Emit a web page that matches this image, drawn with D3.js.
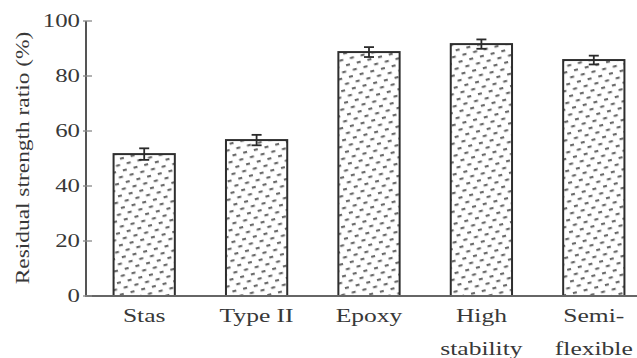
<!DOCTYPE html>
<html>
<head>
<meta charset="utf-8">
<script src="https://cdn.jsdelivr.net/npm/d3@7"></script>
<style>
  html, body { margin: 0; padding: 0; background: #fff; }
  svg { display: block; }
</style>
</head>
<body>
<svg id="chart" width="637" height="358"></svg>
<script>
// Residual strength ratio by sealant type
const categories = ["Stas", "Type II", "Epoxy", "High stability", "Semi-flexible"];
const labelLines = [["Stas"], ["Type II"], ["Epoxy"], ["High", "stability"], ["Semi-", "flexible"]];
const values = [51.6, 56.7, 88.7, 91.6, 85.8];
const errors = [2.1, 1.9, 1.8, 1.7, 1.6];
const yTicks = [0, 20, 40, 60, 80, 100];

const svg = d3.select("#chart");
const W = 637, H = 358;
const mLeft = 86, mRight = 650, mTop = 21, mBottom = 296;
const font = "'Liberation Serif', 'Times New Roman', serif";
const ink = "#383838";

const x = d3.scaleBand().domain(categories).range([mLeft + 2, mRight]).paddingInner(0.455).paddingOuter(0.2275);
const y = d3.scaleLinear().domain([0, 100]).range([mBottom, mTop]);

// dashed-dot fill pattern
const defs = svg.append("defs");
const pat = defs.append("pattern")
  .attr("id", "dots")
  .attr("patternUnits", "userSpaceOnUse")
  .attr("width", 11).attr("height", 12)
  .attr("patternTransform", "rotate(-14)");
pat.append("rect").attr("width", 11).attr("height", 12).attr("fill", "#fff");
pat.append("rect").attr("x", 1).attr("y", 2).attr("width", 4).attr("height", 2.2).attr("fill", "#6a6a6a");
pat.append("rect").attr("x", 6.5).attr("y", 8).attr("width", 4).attr("height", 2.2).attr("fill", "#6a6a6a");

// horizontally stretched serif text
function label(g, tx, ty, txt, anchor, size, sx, rot) {
  return g.append("text")
    .attr("transform", `translate(${tx},${ty})${rot ? ` rotate(${rot})` : ""} scale(${sx},1)`)
    .attr("text-anchor", anchor)
    .attr("font-family", font)
    .attr("font-size", size)
    .attr("fill", ink)
    .text(txt);
}

// bars
const bars = svg.append("g");
bars.selectAll("rect").data(categories).join("rect")
  .attr("x", d => x(d))
  .attr("y", (d, i) => y(values[i]))
  .attr("width", x.bandwidth())
  .attr("height", (d, i) => y(0) - y(values[i]))
  .attr("fill", "url(#dots)")
  .attr("stroke", "#2e2e2e")
  .attr("stroke-width", 2);

// error bars
const eb = svg.append("g").attr("stroke", "#2a2a2a").attr("stroke-width", 1.8);
categories.forEach((c, i) => {
  const cx = x(c) + x.bandwidth() / 2;
  const hi = y(values[i] + errors[i]), lo = y(values[i] - errors[i]);
  eb.append("line").attr("x1", cx).attr("x2", cx).attr("y1", hi).attr("y2", lo);
  eb.append("line").attr("x1", cx - 5).attr("x2", cx + 5).attr("y1", hi).attr("y2", hi);
  eb.append("line").attr("x1", cx - 5).attr("x2", cx + 5).attr("y1", lo).attr("y2", lo);
});

// axes
const axes = svg.append("g");
axes.append("line").attr("x1", mLeft).attr("x2", mLeft).attr("y1", mTop).attr("y2", mBottom)
  .attr("stroke", "#555").attr("stroke-width", 2);
axes.append("line").attr("x1", mLeft - 1).attr("x2", W).attr("y1", mBottom).attr("y2", mBottom)
  .attr("stroke", "#666").attr("stroke-width", 2);
yTicks.forEach(v => {
  axes.append("line").attr("x1", mLeft - 3).attr("x2", mLeft + 6).attr("y1", y(v)).attr("y2", y(v))
    .attr("stroke", "#888").attr("stroke-width", 1.3);
  label(axes, 80, y(v) + 6, String(v), "end", 18, 1.38);
});

// category labels
categories.forEach((c, i) => {
  const cx = x(c) + x.bandwidth() / 2;
  labelLines[i].forEach((ln, j) => {
    label(axes, cx, 322 + j * 33, ln, "middle", 18.5, 1.38);
  });
});

// y-axis title
label(axes, 29, 158, "Residual strength ratio (%)", "middle", 18, 1.3, -90);
</script>
</body>
</html>
